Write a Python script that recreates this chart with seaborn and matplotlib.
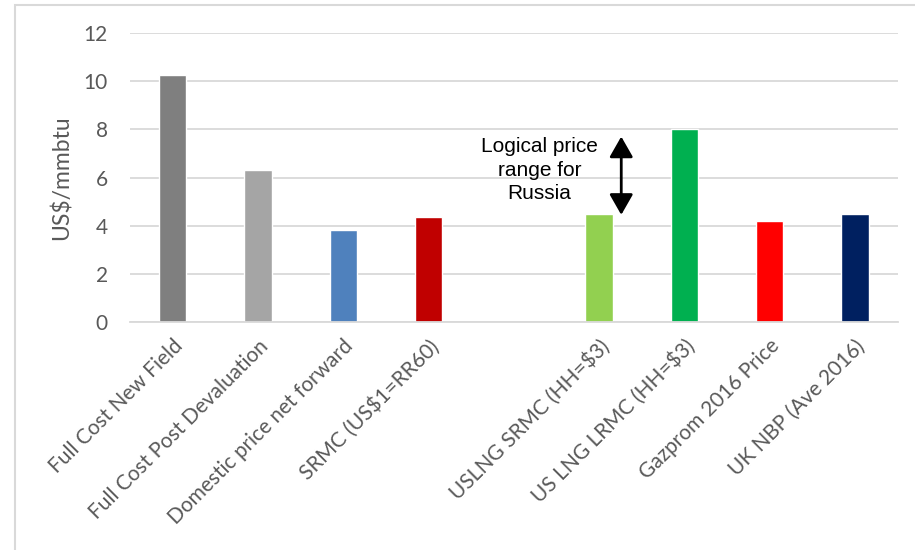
import numpy as np
import pandas as pd
import matplotlib
matplotlib.use("Agg")
import matplotlib.pyplot as plt
import seaborn as sns

sns.set_style("white")
plt.rcParams['font.family'] = ['Lato', 'DejaVu Sans']

# chart data (blank slot separates Russian costs from benchmarks)
categories = ["Full Cost New Field", "Full Cost Post Devaluation", "Domestic price net forward",
              "SRMC (US$1=RR60)", " ", "USLNG SRMC (HH=$3)", "US LNG LRMC (HH=$3)",
              "Gazprom 2016 Price", "UK NBP (Ave 2016)"]
values = [10.25, 6.33, 3.83, 4.37, np.nan, 4.5, 8.0, 4.2, 4.5]
colors = ["#7F7F7F", "#A5A5A5", "#4F81BD", "#C00000", "#FFFFFF",
          "#92D050", "#00B050", "#FF0000", "#002060"]
range_low, range_high = 4.45, 7.7

df = pd.DataFrame({"Item": categories, "Price": values})

fig = plt.figure(figsize=(9.15, 5.5), dpi=100)
ax = fig.add_axes([0.142, 0.4145, 0.839, 0.5255])

sns.barplot(data=df, x="Item", y="Price", hue="Item", order=categories,
            palette=dict(zip(categories, colors)), width=0.32, legend=False,
            saturation=1, ax=ax)

grid_c = "#D9D9D9"
ax.set_ylim(0, 12)
ax.set_xlim(-0.5, len(categories) - 0.5)
ax.set_yticks(range(0, 13, 2))
ax.yaxis.grid(True, color=grid_c, lw=1.3)
ax.set_axisbelow(True)
for s in ["top", "right", "left"]:
    ax.spines[s].set_visible(False)
ax.spines["bottom"].set_color(grid_c)
ax.spines["bottom"].set_linewidth(1.3)
ax.tick_params(axis="both", length=0, colors="#595959", labelsize=15)
ax.tick_params(axis="y", pad=16)
ax.set_xticks(range(len(categories)))
ax.set_xticklabels([c.strip() for c in categories], rotation=45, ha="right",
                   rotation_mode="anchor", fontsize=15, color="#595959")
ax.tick_params(axis="x", pad=10)
ax.set_xlabel("")
ax.set_ylabel("US$/mmbtu", fontsize=16.5, color="#595959", labelpad=8)

# logical price range arrow
ax.annotate("", xy=(5.26, range_low), xytext=(5.26, range_high),
            arrowprops=dict(arrowstyle="<|-|>,head_length=0.7,head_width=0.4",
                            color="black", lw=2, mutation_scale=18,
                            shrinkA=0, shrinkB=0))
ax.text(4.3, 6.3, "Logical price\nrange for\nRussia", ha="center", va="center",
        fontsize=15, family=["Liberation Sans", "DejaVu Sans"], color="black",
        linespacing=1.3)

# outer chart frame
frame = plt.Rectangle((15 / 915, -0.1), 1.1, 1.1 - 5 / 550, transform=fig.transFigure,
                      fill=False, edgecolor=grid_c, lw=1.5, clip_on=False)
fig.patches.append(frame)

fig.savefig("out.png", dpi=100)
